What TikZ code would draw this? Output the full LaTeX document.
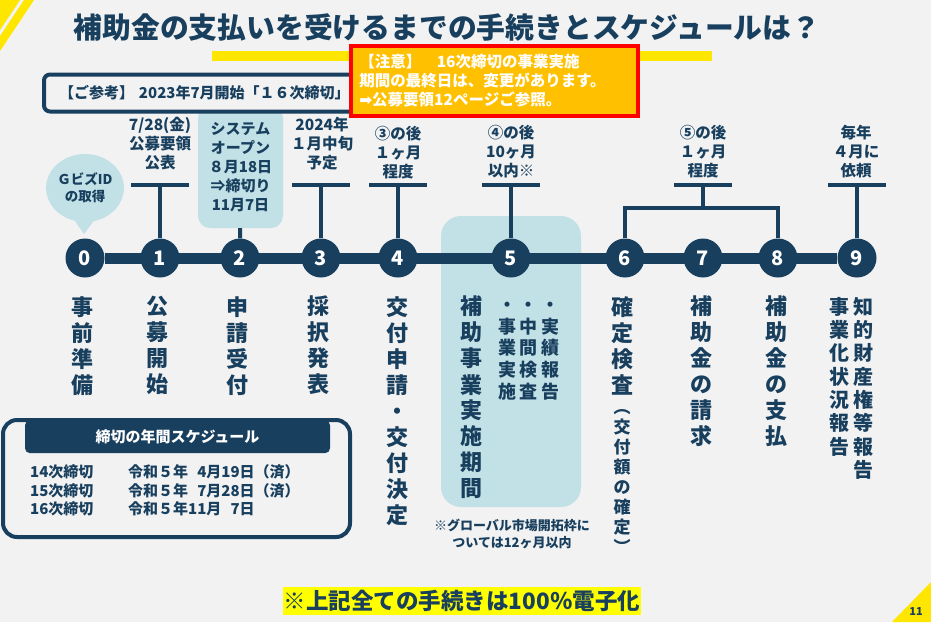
\documentclass[tikz,border=0pt]{standalone}
\usepackage{fontspec}
\setmainfont{Noto Sans CJK JP}
\newfontfamily\symfont{DejaVu Sans}
\usetikzlibrary{shapes.callouts,backgrounds}
\definecolor{bggray}{HTML}{F2F2F2}
\definecolor{darknavy}{HTML}{183F5E}
\definecolor{softblue}{HTML}{C2E1E6}
\definecolor{barYellow}{HTML}{FFE600}
\definecolor{hilite}{HTML}{FFFF00}
\definecolor{noteorange}{HTML}{FFC000}
\newcommand{\setfs}[2]{\fontsize{#1}{#2}\selectfont}
\begin{document}
\begin{tikzpicture}[x=1pt,y=-1pt,
  stepnum/.style={circle,fill=darknavy,text=white,minimum size=39,inner sep=0,font=\bfseries\setfs{20}{24}},
  toplabel/.style={align=center,text=darknavy,inner sep=0,font=\bfseries\setfs{15.5}{19}},
  vlabel/.style={align=center,text=darknavy,inner sep=0,anchor=north,font=\bfseries\setfs{22}{26}},
  tbar/.style={darknavy,line width=4.5},
  tline/.style={darknavy,line width=4}]
\useasboundingbox (0,0) rectangle (931,622);
% title and notes
\node[text=darknavy,font=\bfseries\setfs{28.8}{32}] (title) at (447,27) {補助金の支払いを受けるまでの手続きとスケジュールは？};
\fill[barYellow] (212,51) rectangle (712,61);
\node[fill=softblue,rounded corners=12,minimum width=85,minimum height=122,align=center,text=darknavy,font=\bfseries\setfs{15}{19}] (sys) at (240.5,167) {システム\\オープン\\８月18日\\⇒締切り\\11月7日};
\node[draw=darknavy,line width=4,fill=bggray,rounded corners=6,anchor=west,minimum width=330,minimum height=37,text width=300,align=left,text=darknavy,font=\bfseries\setfs{15}{18}] (ref) at (42,93) {【ご参考】 2023年7月開始「１６次締切」};
\node[draw=red,line width=3.5,fill=noteorange,anchor=north west,minimum width=287,minimum height=70,text width=270,align=left,text=white,font=\bfseries\setfs{15.5}{19}] (note) at (349,44) {【注意】　16次締切の事業実施\\期間の最終日は、変更があります。\\{\symfont ➡}公募要領12ページご参照。};
% set up steps
\node[stepnum] (s0) at (85,258) {0};
\node[stepnum] (s1) at (160,258) {1};
\node[stepnum] (s2) at (240,258) {2};
\node[stepnum] (s3) at (321,258) {3};
\node[stepnum] (s4) at (398,258) {4};
\node[stepnum] (s5) at (511,258) {5};
\node[stepnum] (s6) at (625,258) {6};
\node[stepnum] (s7) at (703,258) {7};
\node[stepnum] (s8) at (778,258) {8};
\node[stepnum] (s9) at (857,258) {9};
\node[ellipse callout,fill=softblue,minimum width=70,minimum height=68,inner sep=0,callout absolute pointer={(84,234)},callout pointer arc=28,align=center,text=darknavy,font=\bfseries\setfs{13.5}{17}] (gbiz) at (85,188) {ＧビズID\\の取得};
% labels above
\node[toplabel] (lab1) at (160,144) {7/28(金)\\公募要領\\公表};
\node[toplabel] (lab3) at (322,144) {2024年\\１月中旬\\予定};
\node[toplabel] (lab4) at (398,153) {③の後\\１ヶ月\\程度};
\node[toplabel] (lab5) at (511,152) {④の後\\10ヶ月\\以内※};
\node[toplabel] (lab68) at (703,152) {⑤の後\\１ヶ月\\程度};
\node[toplabel] (lab9) at (856,152) {毎年\\４月に\\依頼};
\coordinate (b1) at (160,185);
\coordinate (b3) at (321,185);
\coordinate (b4) at (398,185);
\coordinate (b5) at (511,185);
\coordinate (b68) at (703,185);
\coordinate (k68) at (703,208);
\coordinate (b9) at (857,185);
% connect them
\draw[tbar] ([xshift=-29]b1) -- ([xshift=29]b1);
\draw[tline] (b1) -- (s1);
\draw[tline] (sys) -- (s2);
\draw[tbar] ([xshift=-29]b3) -- ([xshift=29]b3);
\draw[tline] (b3) -- (s3);
\draw[tbar] ([xshift=-29]b4) -- ([xshift=29]b4);
\draw[tline] (b4) -- (s4);
\draw[tbar] ([xshift=-29]b5) -- ([xshift=29]b5);
\draw[tline] (b5) -- (s5);
\draw[tbar] ([xshift=-29]b68) -- ([xshift=29]b68);
\draw[tline] (b68) -- (k68);
\draw[tline] (s6) |- (k68);
\draw[tline] (s8) |- (k68);
\draw[tbar] ([xshift=-29]b9) -- ([xshift=29]b9);
\draw[tline] (b9) -- (s9);
% labels below
\node[vlabel] (v0) at (82,296) {事\\前\\準\\備};
\node[vlabel] (v1) at (157,296) {公\\募\\開\\始};
\node[vlabel] (v2) at (237,296) {申\\請\\受\\付};
\node[vlabel] (v3) at (318,296) {採\\択\\発\\表};
\node[vlabel] (v4) at (397,296) {交\\付\\申\\請\\・\\交\\付\\決\\定};
\node[vlabel] (v5) at (471,296) {補\\助\\事\\業\\実\\施\\期\\間};
\node[vlabel,font=\bfseries\setfs{18}{21.7}] (v5a) at (507,296) {\vphantom{事}・\\事\\業\\実\\施};
\node[vlabel,font=\bfseries\setfs{18}{21.7}] (v5b) at (528,296) {\vphantom{事}・\\中\\間\\検\\査};
\node[vlabel,font=\bfseries\setfs{18}{21.7}] (v5c) at (550,296) {\vphantom{事}・\\実\\績\\報\\告};
\node[vlabel] (v6) at (622,296) {確\\定\\検\\査};
\node[vlabel,font=\bfseries\setfs{17}{20}] (v6p) at (622,399) {\vphantom{交}︵\\交\\付\\額\\の\\確\\定\\︶};
\node[vlabel] (v7) at (701,296) {補\\助\\金\\の\\請\\求};
\node[vlabel] (v8) at (776,296) {補\\助\\金\\の\\支\\払};
\node[vlabel,font=\bfseries\setfs{20}{23.3}] (v9a) at (863,297) {知\\的\\財\\産\\権\\等\\報\\告};
\node[vlabel,font=\bfseries\setfs{20}{23.3}] (v9b) at (839,297) {事\\業\\化\\状\\況\\報\\告};
\node[align=center,text=darknavy,font=\bfseries\setfs{13}{17}] (gnote) at (512,533.5) {※グローバル市場開拓枠に\\ついては12ヶ月以内};
% schedule box
\node[draw=darknavy,line width=4,fill=bggray,rounded corners=14,minimum width=347,minimum height=117] (sched) at (176.5,478.5) {};
\node[fill=darknavy,rounded corners=5,minimum width=305,minimum height=33,anchor=north,text=white,font=\bfseries\setfs{15}{18}] (shead) at (177.5,420) {締切の年間スケジュール};
\node[anchor=west,align=left,inner sep=0,text=darknavy,font=\bfseries\setfs{15}{18.5}] (sround) at (30,490.5) {14次締切\\15次締切\\16次締切};
\node[anchor=west,align=left,inner sep=0,text=darknavy,font=\bfseries\setfs{15}{18.5}] (sdate) at (128,490.5) {令和５年\phantom{0}4月19日（済）\\令和５年\phantom{0}7月28日（済）\\令和５年11月\phantom{0}7日};
% footer
\node[fill=hilite,inner xsep=1,inner ysep=0,minimum height=28,text=darknavy,font=\bfseries\setfs{22.5}{26}] (allnote) at (462,601) {※上記全ての手続きは100％電子化};
\node[text=darknavy,font=\bfseries\setfs{11}{13}] (pnum) at (916,611) {11};
\begin{pgfonlayer}{background}
\fill[bggray] (0,0) rectangle (931,622);
\fill[barYellow] (0,0) -- (20,0) -- (0,30) -- cycle;
\fill[barYellow] (24,0) -- (34,0) -- (0,51) -- (0,36) -- cycle;
\fill[barYellow] (931,582) -- (931,622) -- (892,622) -- cycle;
\fill[softblue,rounded corners=20] (441,216) rectangle (581,507);
\draw[darknavy,line width=11] (s0) -- (s9);
\end{pgfonlayer}
\end{tikzpicture}
\end{document}
